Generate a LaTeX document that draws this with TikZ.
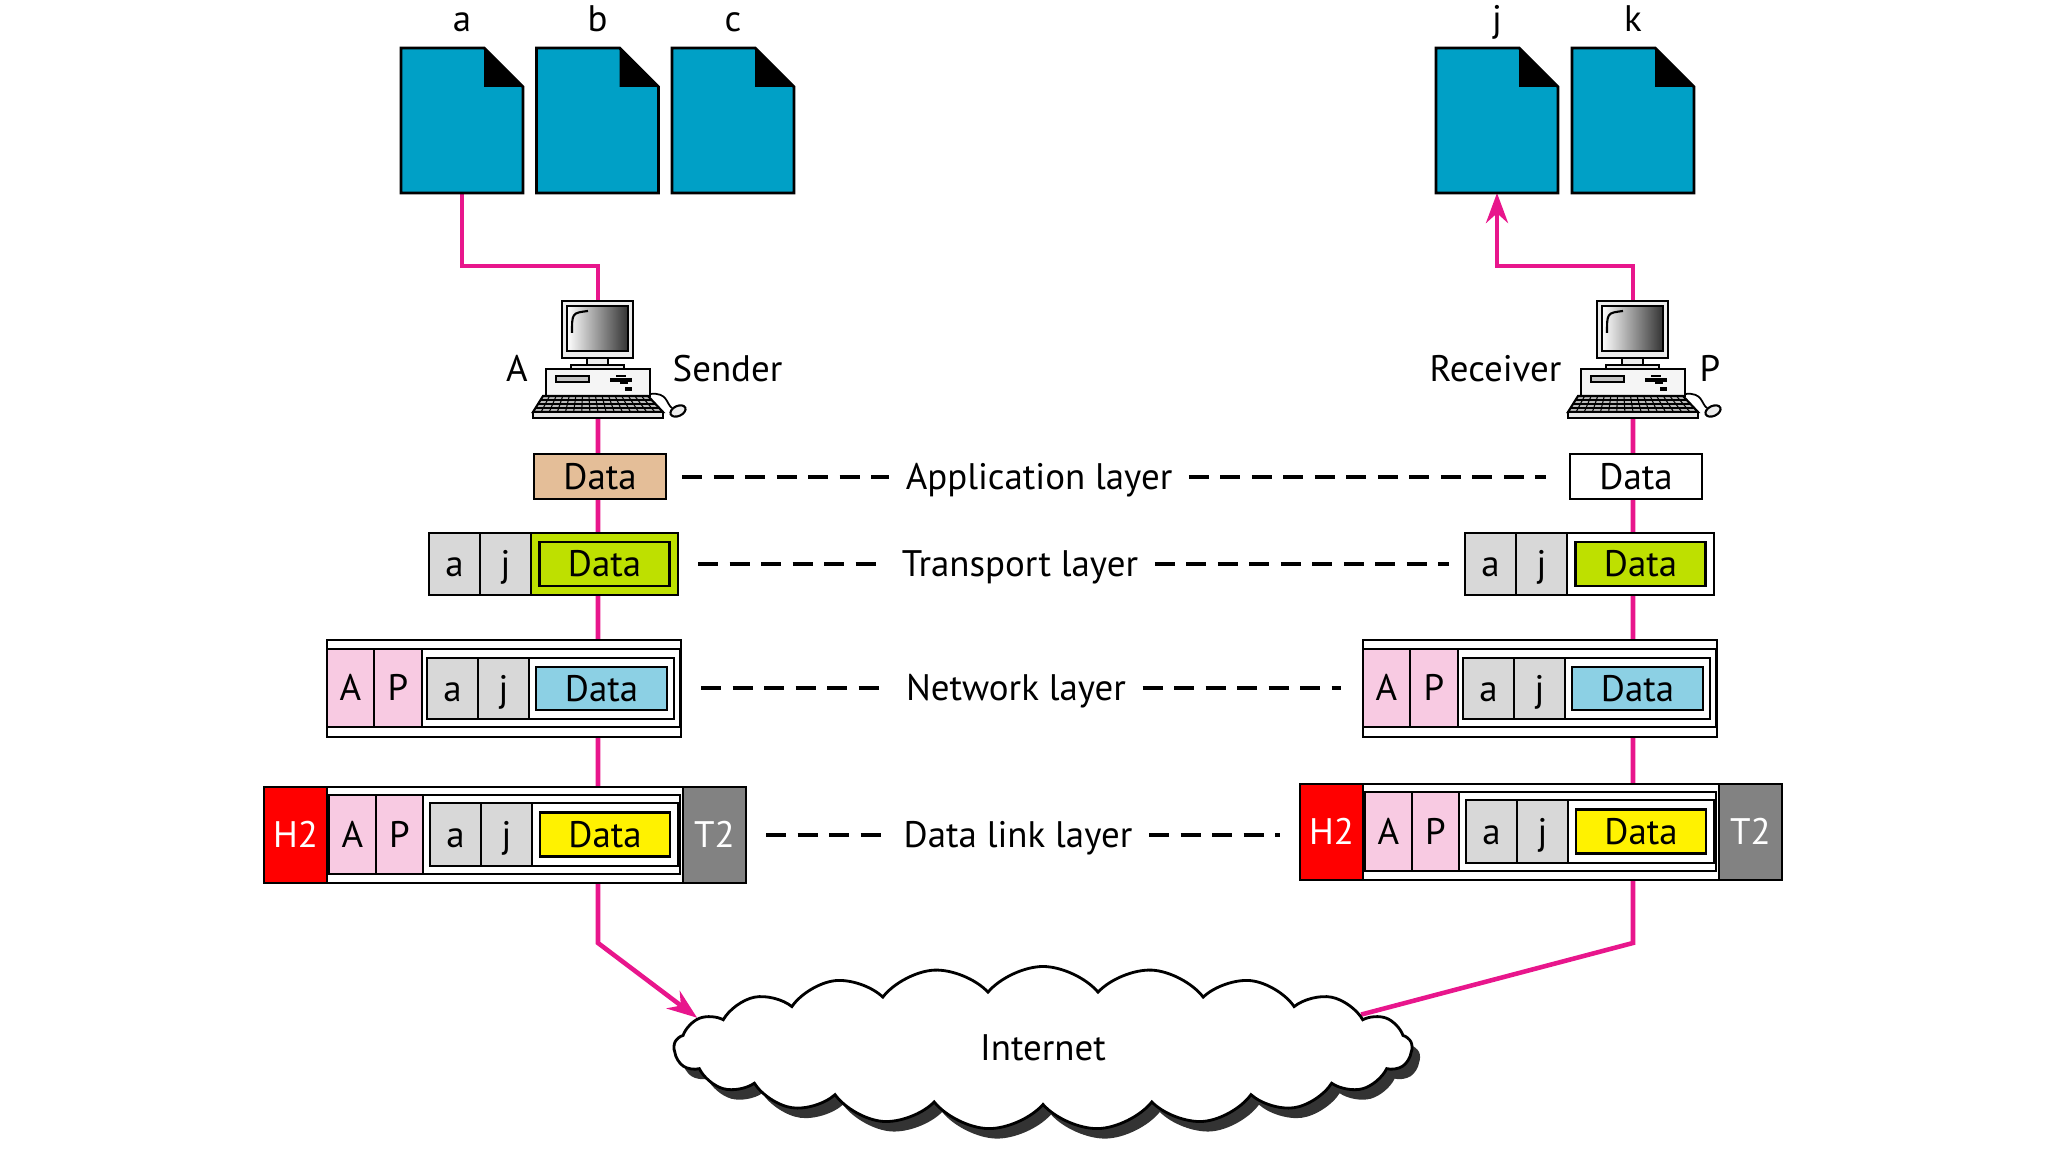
\documentclass[tikz,border=0pt]{standalone}
\usepackage{fontspec}
\setmainfont{PT Sans}
\usetikzlibrary{positioning,calc,shapes.symbols,shadows,arrows.meta,backgrounds}

\definecolor{docblue}{RGB}{0,160,198}
\definecolor{wirepink}{RGB}{232,22,140}
\definecolor{datatan}{RGB}{228,190,152}
\definecolor{hdrgray}{RGB}{216,216,216}
\definecolor{translime}{RGB}{190,224,0}
\definecolor{netpink}{RGB}{248,202,226}
\definecolor{netblue}{RGB}{140,208,228}
\definecolor{trailgray}{RGB}{130,130,130}
\definecolor{hdrred}{RGB}{255,0,0}

\tikzset{
  cell/.style={draw, line width=0.75pt, outer sep=0pt, inner sep=0pt, text height=2.55mm, text depth=0pt},
  layername/.style={inner xsep=1.6mm, inner ysep=0pt, text height=2.55mm, text depth=0pt},
  dashline/.style={line width=1pt, dash pattern=on 2mm off 1.15mm},
  wire/.style={wirepink, line width=1.3pt},
  doc/.style={minimum width=12.2mm, minimum height=14.5mm, inner sep=0pt, outer sep=0pt},
  lbl/.style={anchor=base, inner sep=0pt},
}

\begin{document}
\begin{tikzpicture}[x=0.1mm, y=-0.1mm, font=\fontsize{10.5pt}{12.5pt}\selectfont]
\useasboundingbox (0,0) rectangle (2048,1152);

% files on both hosts
\node[doc] (da) at (462,120.5) {};
\node[doc] (db) at (597.5,120.5) {};
\node[doc] (dc) at (733,120.5) {};
\node[doc] (dj) at (1497,120.5) {};
\node[doc] (dk) at (1633,120.5) {};
\foreach \d in {da,db,dc,dj,dk}{
  \draw[line width=0.8pt, fill=docblue] (\d.south west) -- (\d.north west) -- ($(\d.north east)+(-39,0)$)
    -- ($(\d.north east)+(0,39)$) -- (\d.south east) -- cycle;
  \fill ($(\d.north east)+(-39,0)$) -- ($(\d.north east)+(0,39)$) -- ($(\d.north east)+(-39,39)$) -- cycle;
}
\node[lbl] (la) at ($(da.north)+(0,-16)$) {a};
\node[lbl] (lb) at ($(db.north)+(0,-16)$) {b};
\node[lbl] (lc) at ($(dc.north)+(0,-16)$) {c};
\node[lbl] (lj) at ($(dj.north)+(0,-16)$) {j};
\node[lbl] (lk) at ($(dk.north)+(0,-16)$) {k};

% the two computers
\foreach \s/\cx in {L/598, R/1633}{
\begin{scope}[shift={(\cx,0)}]
  \node[minimum width=13mm, minimum height=11.7mm, inner sep=0pt, outer sep=0pt] (\s-pc) at (0,359.5) {};
  \draw[fill=gray!15, line width=0.6pt] (-36,301) rectangle (35,358);
  \shade[left color=white, right color=black!80, draw=black, line width=0.6pt] (-31,306) rectangle (30,351);
  \draw[line width=0.6pt] (-26,333) .. controls (-26,313) .. (-10,311);
  \draw[fill=gray!15, line width=0.5pt] (-11,358) rectangle (10,365);
  \draw[fill=gray!15, line width=0.5pt] (-27,365) rectangle (26,369);
  \draw[fill=gray!8, line width=0.6pt] (-52,369) rectangle (52,396);
  \draw[fill=gray!45, line width=0.5pt] (-42,376) rectangle (-9,382);
  \draw[line width=0.9pt] (12,380) -- (34,380);
  \draw[line width=0.6pt] (18,376) -- (28,376) (22,383) -- (30,383);
  \fill (27,387) rectangle (34,391);
  \draw[fill=gray!55, line width=0.6pt] (-55,396) -- (50,396) -- (65,412) -- (-65,412) -- cycle;
  \foreach \t in {0.0625,0.125,...,0.95}
    \draw[line width=0.3pt] ({-55+105*\t},396) -- ({-65+130*\t},412);
  \draw[line width=0.3pt] (-58,400) -- (54,400) (-60,404) -- (57,404) (-63,408) -- (61,408);
  \draw[fill=gray!20, line width=0.6pt] (-65,412) rectangle (65,418);
  \draw[line width=0.5pt] (52,394) .. controls (70,392) and (68,404) .. (74,408);
  \draw[fill=gray!15, line width=0.6pt, rotate around={25:(80,411)}] (80,411) ellipse[x radius=8, y radius=5];
\end{scope}}
\node[lbl, anchor=base] (nA) at (517,382) {A};
\node[lbl, anchor=base west] (nsend) at (672,382) {Sender};
\node[lbl, anchor=base east] (nrecv) at (1562,382) {Receiver};
\node[lbl, anchor=base] (nP) at (1710,382) {P};

% packets on each layer
\foreach \s/\dx/\dy/\afill/\tfill in {L/0/0/datatan/translime, R/1036/-3/white/white}{
\begin{scope}[shift={(\dx,0)}]
  % application
  \node[cell, fill=\afill, minimum width=13.2mm, minimum height=4.5mm] (\s-app) at (600,476.5) {Data};
  % transport
  \node[cell, fill=hdrgray, minimum width=5.1mm, minimum height=6.2mm] (\s-ta) at (454.5,564) {a};
  \node[cell, fill=hdrgray, minimum width=5.1mm, minimum height=6.2mm, right=0pt of \s-ta] (\s-tj) {j};
  \node[cell, fill=\tfill, minimum width=14.7mm, minimum height=6.2mm, right=0pt of \s-tj] (\s-tr) {};
  \node[cell, fill=translime, minimum width=13mm, minimum height=4.4mm] (\s-td) at (\s-tr) {Data};
  % network
  \node[cell, fill=white, minimum width=35.4mm, minimum height=9.7mm] (\s-net) at (504,688.5) {};
  \node[cell, fill=netpink, minimum width=4.7mm, minimum height=7.8mm] (\s-nA) at (350.5,688) {A};
  \node[cell, fill=netpink, minimum width=4.8mm, minimum height=7.8mm, right=0pt of \s-nA] (\s-nP) {P};
  \node[cell, fill=white, minimum width=25.8mm, minimum height=7.8mm, right=0pt of \s-nP] (\s-nf) {};
  \node[cell, fill=hdrgray, minimum width=5.1mm, minimum height=6.1mm] (\s-na) at (452.5,688.5) {a};
  \node[cell, fill=hdrgray, minimum width=5.1mm, minimum height=6.1mm, right=0pt of \s-na] (\s-nj) {j};
  \node[cell, fill=white, minimum width=14.5mm, minimum height=6.1mm, right=0pt of \s-nj] (\s-nt) {};
  \node[cell, fill=netblue, minimum width=13.1mm, minimum height=4.3mm] (\s-nd) at (\s-nt) {Data};
  % data link
  \begin{scope}[shift={(0,\dy)}]
    \node[cell, fill=white, minimum width=35.6mm, minimum height=9.6mm] (\s-dl) at (505,835) {};
    \node[cell, fill=hdrred, text=white, minimum width=6.3mm, minimum height=9.6mm, left=0pt of \s-dl] (\s-H) {H2};
    \node[cell, fill=trailgray, text=white, minimum width=6.3mm, minimum height=9.6mm, right=0pt of \s-dl] (\s-T) {T2};
    \node[cell, fill=netpink, minimum width=4.7mm, minimum height=7.9mm] (\s-dA) at (352.5,834.5) {A};
    \node[cell, fill=netpink, minimum width=4.7mm, minimum height=7.9mm, right=0pt of \s-dA] (\s-dP) {P};
    \node[cell, fill=white, minimum width=25.7mm, minimum height=7.9mm, right=0pt of \s-dP] (\s-df) {};
    \node[cell, fill=hdrgray, minimum width=5.1mm, minimum height=6.3mm] (\s-da) at (455.5,834.5) {a};
    \node[cell, fill=hdrgray, minimum width=5.1mm, minimum height=6.3mm, right=0pt of \s-da] (\s-dj) {j};
    \node[cell, fill=white, minimum width=14.6mm, minimum height=6.3mm, right=0pt of \s-dj] (\s-dt) {};
    \node[cell, fill=yellow, minimum width=13mm, minimum height=4.4mm] (\s-dd) at (\s-dt) {Data};
  \end{scope}
\end{scope}}

% layer names with peer-to-peer dashes
\node[layername] (lapp) at (1039,477) {Application layer};
\node[layername] (ltr) at (1020,564) {Transport layer};
\node[layername] (lnet) at (1016,688) {Network layer};
\node[layername] (ldl) at (1018,835) {Data link layer};
\draw[dashline, shorten <=1.6mm] (lapp.west -| L-app.east) -- (lapp.west);
\draw[dashline, shorten >=2.4mm] (lapp.east) -- (lapp.east -| R-app.west);
\draw[dashline, shorten <=2mm] (ltr.west -| L-tr.east) -- (ltr.west);
\draw[dashline, shorten >=1.6mm] (ltr.east) -- (ltr.east -| R-ta.west);
\draw[dashline, shorten <=2mm] (lnet.west -| L-net.east) -- (lnet.west);
\draw[dashline, shorten >=2.2mm] (lnet.east) -- (lnet.east -| R-nA.west);
\draw[dashline, shorten <=2mm] (ldl.west -| L-T.east) -- (ldl.west);
\draw[dashline, shorten >=2mm] (ldl.east) -- (ldl.east -| R-H.west);

% the internet
\node[cloud, cloud puffs=21, cloud puff arc=100, cloud ignores aspect, draw, line width=0.8pt, fill=white,
  minimum width=73.8mm, minimum height=16.3mm, inner sep=0pt, text height=2.55mm, text depth=0pt,
  drop shadow={shadow xshift=0.8mm, shadow yshift=-1mm, opacity=1, fill=black!80}] (net) at (1043,1048) {Internet};

% links
\begin{scope}[on background layer]
  \draw[wire] (L-pc.north) -- ++(0,-35) -| (da.south);
  \draw[wire, -{Stealth[length=3mm, width=2.2mm]}] (R-pc.north) -- ++(0,-35) -| (dj.south);
  \draw[wire, -{Stealth[length=3mm, width=2.2mm]}] (L-pc.south) -- (L-pc.south |- L-dl.south) -- ++(0,60) -- (net.175);
  \draw[wire] (R-pc.south) -- (R-pc.south |- R-dl.south) -- ++(0,63) -- (net.6);
\end{scope}
\end{tikzpicture}
\end{document}
